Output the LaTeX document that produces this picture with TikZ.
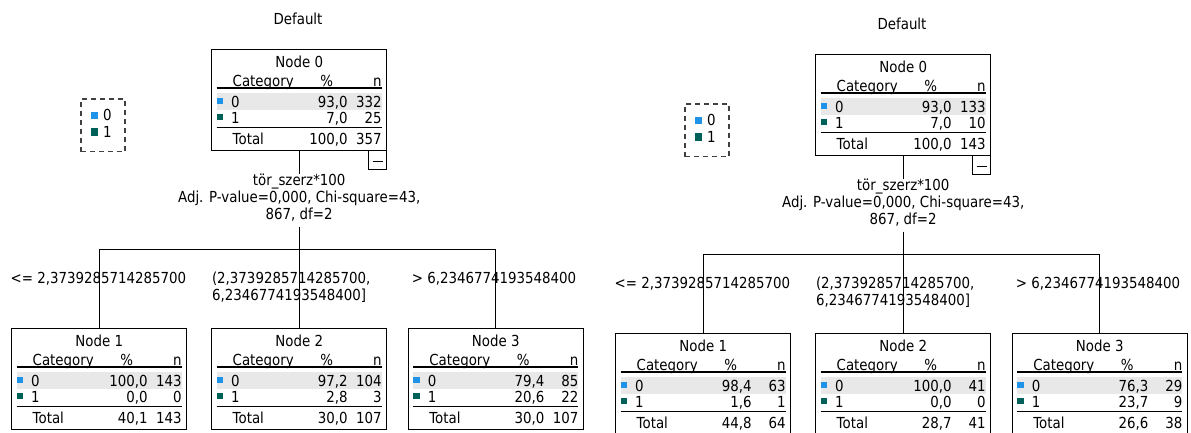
\documentclass[tikz,border=0pt]{standalone}
\usepackage{fontspec}
\setmainfont[FakeStretch=0.88]{DejaVu Sans}
\usetikzlibrary{calc}
\definecolor{catA}{HTML}{1E93E8}
\definecolor{catB}{HTML}{00605A}
\definecolor{bandgray}{HTML}{E8E8E8}
\definecolor{dashgray}{HTML}{404040}
\tikzset{
 txt/.style={inner sep=0pt, outer sep=0pt, font=\fontsize{15.2}{17}\selectfont},
 tbox/.style={draw, line width=1.2pt, minimum width=175pt, minimum height=101.5pt, inner sep=0pt, outer sep=0pt, anchor=north west},
 rule/.style={line width=1.2pt},
 conn/.style={line width=1.2pt},
 togglebox/.style={draw, line width=1pt, minimum width=18pt, minimum height=19pt, inner sep=0pt, outer sep=0pt, anchor=north east},
 legbox/.style={draw=dashgray, line width=1.2pt, dash pattern=on 5pt off 4pt, minimum width=44pt, minimum height=52.7pt, inner sep=0pt, outer sep=0pt, anchor=north west},
}
% #1 name, #2 top-left, #3 title, #4..#9 values
\newcommand\ctab[9]{%
  \node[tbox] (#1) at (#2) {};
  \begin{scope}[shift={(#1.north west)}]
    \fill[bandgray] (5,43.4) rectangle (170,60.7);
    \draw[rule] (5,38.6) -- (170,38.6);
    \draw[rule] (5,78) -- (170,78);
    \fill[catA] (5,48.5) rectangle (11.5,55);
    \fill[catB] (5,64.5) rectangle (11.5,71);
    \node[txt,anchor=base] (#1-ti) at (87.5,18) {#3};
    \node[txt,anchor=base west] (#1-hc) at (21,37.2) {Category};
    \node[txt,anchor=base] (#1-hp) at (115,37.2) {\%};
    \node[txt,anchor=base east] (#1-hn) at (170,37.2) {n};
    \node[txt,anchor=base west] (#1-c0) at (19.5,57.8) {0};
    \node[txt,anchor=base east] (#1-p0) at (136,57.8) {#4};
    \node[txt,anchor=base east] (#1-n0) at (170,57.8) {#5};
    \node[txt,anchor=base west] (#1-c1) at (19.5,73.8) {1};
    \node[txt,anchor=base east] (#1-p1) at (136,73.8) {#6};
    \node[txt,anchor=base east] (#1-n1) at (170,73.8) {#7};
    \node[txt,anchor=base west] (#1-ct) at (21,95.6) {Total};
    \node[txt,anchor=base east] (#1-pt) at (136,95.6) {#8};
    \node[txt,anchor=base east] (#1-nt) at (170,95.6) {#9};
  \end{scope}
}
\newcommand\treeframe{%
  \node[txt] (ttl) at (298,19) {Default};
  \node[legbox] (lg) at (81,99) {};
  \fill[catA] (90.7,111.7) rectangle (98,119);
  \fill[catB] (90.7,128.3) rectangle (98,135.6);
  \node[txt,anchor=base west] (lg0) at (103,120.6) {0};
  \node[txt,anchor=base west] (lg1) at (103,137.2) {1};
  \node[togglebox] (tg) at (n0.south east) {};
  \draw[line width=1pt] ($(tg.center)+(-5,1)$) -- ($(tg.center)+(5,1)$);
  \node[txt,align=center] (s0) at ($(n0.south)+(0,47.2)$) {tör\_szerz*100\\Adj. P-value=0,000, Chi-square=43,\\867, df=2};
  \coordinate (hy) at (0,249.3);
  \draw[conn] (n0.south) -- (s0.north);
  \draw[conn] ([yshift=-5pt]s0.south) -- (s0.south |- hy);
  \draw[conn] (n1.north) -- (n1.north |- hy) -- (n3.north |- hy) -- (n3.north);
  \draw[conn] (n2.north) -- (n2.north |- hy);
  \node[txt,anchor=base] (l1) at (98.5,283.5) {<= 2,3739285714285700};
  \node[txt,align=left,anchor=north west] (l2) at (212,272) {(2,3739285714285700,\\6,2346774193548400]};
  \node[txt,anchor=base] (l3) at (494,283.5) {> 6,2346774193548400};
}
\begin{document}
\begin{tikzpicture}[x=1pt,y=-1pt]
\useasboundingbox (0,0) rectangle (1191,432);
\clip (0,0) rectangle (1191,432);
\begin{scope}[name prefix=L-]
  \ctab{n0}{211.7,49.3}{Node 0}{93,0}{332}{7,0}{25}{100,0}{357}
  \ctab{n1}{11.7,328.3}{Node 1}{100,0}{143}{0,0}{0}{40,1}{143}
  \ctab{n2}{211.7,328.3}{Node 2}{97,2}{104}{2,8}{3}{30,0}{107}
  \ctab{n3}{408.3,328.3}{Node 3}{79,4}{85}{20,6}{22}{30,0}{107}
  \treeframe
\end{scope}
\begin{scope}[name prefix=R-, shift={(604,5)}]
  \ctab{n0}{211.7,49.3}{Node 0}{93,0}{133}{7,0}{10}{100,0}{143}
  \ctab{n1}{11.7,328.3}{Node 1}{98,4}{63}{1,6}{1}{44,8}{64}
  \ctab{n2}{211.7,328.3}{Node 2}{100,0}{41}{0,0}{0}{28,7}{41}
  \ctab{n3}{408.3,328.3}{Node 3}{76,3}{29}{23,7}{9}{26,6}{38}
  \treeframe
\end{scope}
\end{tikzpicture}
\end{document}
